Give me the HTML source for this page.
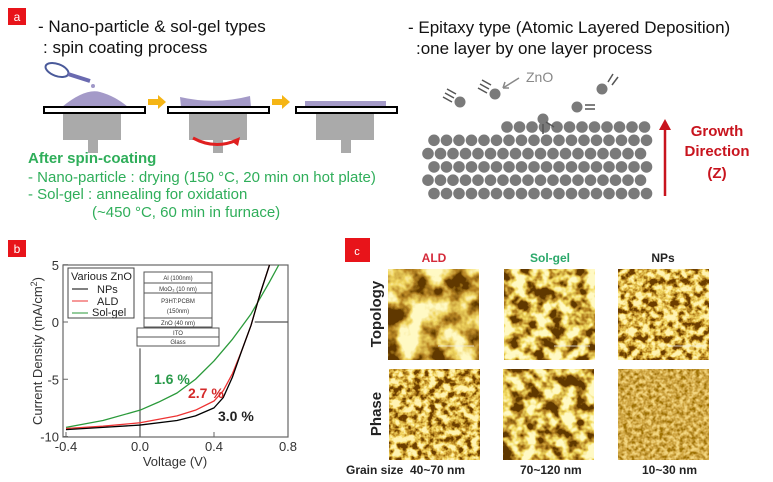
<!DOCTYPE html>
<html><head><meta charset="utf-8"><style>
body{margin:0;background:#fff;width:773px;height:482px;overflow:hidden;font-family:"Liberation Sans",Arial,sans-serif}
svg{display:block}
</style></head><body>
<svg width="773" height="482" viewBox="0 0 773 482" xmlns="http://www.w3.org/2000/svg" font-family="Liberation Sans, Arial, sans-serif">
<defs>
<filter id="afm1" x="0" y="0" width="100%" height="100%"><feTurbulence type="fractalNoise" baseFrequency="0.04" numOctaves="4" seed="3"/><feColorMatrix type="matrix" values="3 0 0 0 -1 3 0 0 0 -1 3 0 0 0 -1 0 0 0 0 1"/><feComponentTransfer><feFuncR type="table" tableValues="0.12 0.5 0.88 1"/><feFuncG type="table" tableValues="0.04 0.25 0.68 0.95"/><feFuncB type="table" tableValues="0 0.02 0.12 0.55"/></feComponentTransfer></filter>
<filter id="afm2" x="0" y="0" width="100%" height="100%"><feTurbulence type="fractalNoise" baseFrequency="0.08" numOctaves="3" seed="7"/><feColorMatrix type="matrix" values="3.2 0 0 0 -1.1 3.2 0 0 0 -1.1 3.2 0 0 0 -1.1 0 0 0 0 1"/><feComponentTransfer><feFuncR type="table" tableValues="0.12 0.5 0.9 1"/><feFuncG type="table" tableValues="0.04 0.25 0.72 0.95"/><feFuncB type="table" tableValues="0 0.02 0.12 0.55"/></feComponentTransfer></filter>
<filter id="afm3" x="0" y="0" width="100%" height="100%"><feTurbulence type="fractalNoise" baseFrequency="0.14" numOctaves="3" seed="11"/><feColorMatrix type="matrix" values="3 0 0 0 -1 3 0 0 0 -1 3 0 0 0 -1 0 0 0 0 1"/><feComponentTransfer><feFuncR type="table" tableValues="0.15 0.55 0.9 1"/><feFuncG type="table" tableValues="0.05 0.28 0.68 0.9"/><feFuncB type="table" tableValues="0 0.02 0.12 0.45"/></feComponentTransfer></filter>
<filter id="afm4" x="0" y="0" width="100%" height="100%"><feTurbulence type="fractalNoise" baseFrequency="0.25" numOctaves="2" seed="5"/><feColorMatrix type="matrix" values="2.2 0 0 0 -0.6 2.2 0 0 0 -0.6 2.2 0 0 0 -0.6 0 0 0 0 1"/><feComponentTransfer><feFuncR type="table" tableValues="0.35 0.65 0.9"/><feFuncG type="table" tableValues="0.17 0.4 0.68"/><feFuncB type="table" tableValues="0 0.06 0.22"/></feComponentTransfer></filter>
</defs>

<!-- Panel a -->
<g>
<rect x="8" y="8" width="18" height="17" fill="#e8141a"/>
<text x="17" y="21" font-size="12" fill="#fff" text-anchor="middle">a</text>
<text x="38" y="32" font-size="17" fill="#111">- Nano-particle &amp; sol-gel types</text>
<text x="43" y="53" font-size="17" fill="#111">: spin coating process</text>
<g>
<ellipse cx="57" cy="70" rx="12" ry="6" fill="none" stroke="#4a5a9a" stroke-width="2" transform="rotate(20 57 70)"/>
<line x1="68" y1="74" x2="90" y2="81" stroke="#6a6ab0" stroke-width="4"/>
<circle cx="93" cy="86" r="2" fill="#a098c8"/>
</g>
<path d="M62 107 Q85 88 100 92 Q115 96 128 107 Z" fill="#a49ac8"/>
<rect x="63" y="114" width="58" height="26" fill="#aaa"/><rect x="88" y="140" width="10" height="13" fill="#aaa"/>
<rect x="44" y="107" width="101" height="6" fill="#fff" stroke="#000" stroke-width="2"/>
<path d="M148 99 h10 v-4 l8 7 -8 7 v-4 h-10z" fill="#f5b515"/>
<path d="M180 97 Q215 105 250 96 L251 107 L181 107 Z" fill="#a49ac8"/>
<rect x="189" y="114" width="58" height="26" fill="#aaa"/><rect x="213" y="140" width="10" height="13" fill="#aaa"/>
<rect x="168" y="107" width="101" height="6" fill="#fff" stroke="#000" stroke-width="2"/>
<path d="M193 138 Q215 150 237 140" fill="none" stroke="#e02020" stroke-width="3"/>
<path d="M240 137 l-2 9 -7 -5z" fill="#e02020"/>
<path d="M272 99 h10 v-4 l8 7 -8 7 v-4 h-10z" fill="#f5b515"/>
<rect x="305" y="101" width="81" height="6" fill="#a49ac8"/>
<rect x="316" y="114" width="58" height="26" fill="#aaa"/><rect x="341" y="140" width="10" height="13" fill="#aaa"/>
<rect x="296" y="107" width="101" height="6" fill="#fff" stroke="#000" stroke-width="2"/>
<g font-size="15" fill="#2fae5a">
<text x="28" y="163" font-weight="bold">After spin-coating</text>
<text x="28" y="182">- Nano-particle : drying (150 °C, 20 min on hot plate)</text>
<text x="28" y="199">- Sol-gel : annealing for oxidation</text>
<text x="92" y="217">(~450 °C, 60 min in furnace)</text>
</g>
<text x="408" y="33" font-size="17" fill="#111">- Epitaxy type (Atomic  Layered Deposition)</text>
<text x="416" y="54" font-size="17" fill="#111">:one layer by one layer process</text>
<g id="balls" fill="#7a7a7a"></g>
<g fill="#7a7a7a" stroke="#555" stroke-width="1.5">
<circle cx="460" cy="102" r="5.5" stroke="none"/><path d="M443 97l9 5M445 93l9 5M447 89l9 5" />
<circle cx="495" cy="94" r="5.5" stroke="none"/><path d="M478 88l9 5M480 84l9 5M482 80l9 5"/>
<circle cx="602" cy="89" r="5.5" stroke="none"/><path d="M608 82l5 -8M612 85l6 -8"/>
<circle cx="577" cy="107" r="5.5" stroke="none"/><path d="M585 105h10M585 109h10"/>
<circle cx="543" cy="119" r="5.5" stroke="none"/><path d="M543 124v10M546 122l8 5"/>
<path d="M503 88l16-10" stroke="#888"/><path d="M503 88l2-6M503 88l6 0" stroke="#888"/>
</g>
<text x="526" y="82" font-size="14" fill="#888">ZnO</text>
<line x1="665" y1="196" x2="665" y2="128" stroke="#c8141e" stroke-width="2.5"/>
<path d="M659 130 l6 -11 6 11z" fill="#c8141e"/>
<g font-size="15" font-weight="bold" fill="#c8141e" text-anchor="middle">
<text x="717" y="136">Growth</text><text x="717" y="156">Direction</text><text x="717" y="178">(Z)</text>
</g>
</g>

<!-- Panel b -->
<g>
<rect x="8" y="240" width="18" height="17" fill="#e8141a"/>
<text x="17" y="253" font-size="12" fill="#fff" text-anchor="middle">b</text>
<rect x="63" y="265" width="225" height="172" fill="none" stroke="#666" stroke-width="1.2"/>
<g id="axes" font-size="13" fill="#333"></g>
<text transform="translate(42 351) rotate(-90)" font-size="13" text-anchor="middle" fill="#333">Current Density (mA/cm<tspan dy="-5" font-size="9">2</tspan><tspan dy="5">)</tspan></text>
<text x="175" y="466" font-size="13" text-anchor="middle" fill="#333">Voltage (V)</text>
<g id="curves"></g>
<rect x="68" y="268" width="66" height="50" fill="#fff" stroke="#444" stroke-width="1"/>
<g font-size="11" fill="#222">
<text x="71" y="280">Various ZnO</text>
<line x1="72" y1="289" x2="88" y2="289" stroke="#000"/><text x="97" y="293">NPs</text>
<line x1="72" y1="301" x2="88" y2="301" stroke="#e33"/><text x="97" y="305">ALD</text>
<line x1="72" y1="313" x2="88" y2="313" stroke="#2a9a3a"/><text x="92" y="316">Sol-gel</text>
</g>
<g fill="#fff" stroke="#555" stroke-width="1" font-size="6" text-anchor="middle">
<rect x="144" y="272" width="68" height="11"/><rect x="144" y="283" width="68" height="10"/><rect x="144" y="293" width="68" height="25"/><rect x="144" y="318" width="68" height="9"/>
<rect x="137" y="328" width="82" height="9"/><rect x="137" y="337" width="82" height="9"/>
<g fill="#333" stroke="none"><text x="178" y="280">Al (100nm)</text><text x="178" y="291">MoO₃ (10 nm)</text><text x="178" y="303">P3HT:PCBM</text><text x="178" y="313">(150nm)</text><text x="178" y="325">ZnO (40 nm)</text><text x="178" y="335">ITO</text><text x="178" y="344">Glass</text></g>
</g>
<g font-size="14" font-weight="bold">
<text x="154" y="384" fill="#2a9a4a">1.6 %</text>
<text x="188" y="398" fill="#d42a2a">2.7 %</text>
<text x="218" y="421" fill="#222">3.0 %</text>
</g>
</g>

<!-- Panel c -->
<g>
<rect x="345" y="238" width="25" height="24" fill="#e8141a"/>
<text x="357" y="255" font-size="11" fill="#fff" text-anchor="middle">c</text>
<g font-size="12" font-weight="bold" text-anchor="middle">
<text x="434" y="262" fill="#d42a3a">ALD</text>
<text x="550" y="262" fill="#2aa86a">Sol-gel</text>
<text x="663" y="262" fill="#222">NPs</text>
</g>
<g font-size="15" font-weight="bold" fill="#222" text-anchor="middle">
<text transform="translate(381 314) rotate(-90)">Topology</text>
<text transform="translate(381 414) rotate(-90)">Phase</text>
</g>
<rect x="388" y="269" width="91" height="91" filter="url(#afm1)"/>
<rect x="504" y="269" width="91" height="91" filter="url(#afm2)"/>
<rect x="618" y="269" width="91" height="91" filter="url(#afm3)"/>
<rect x="389" y="369" width="91" height="91" filter="url(#afm3)"/>
<rect x="503" y="369" width="91" height="91" filter="url(#afm2)"/>
<rect x="618" y="369" width="91" height="91" filter="url(#afm4)"/>
<g stroke="#eee" stroke-width="0.8"><line x1="438" y1="346" x2="474" y2="346"/><line x1="554" y1="346" x2="590" y2="346"/><line x1="668" y1="346" x2="704" y2="346"/></g>
<g font-size="12" font-weight="bold" fill="#222">
<text x="346" y="474">Grain size</text>
<text x="410" y="474">40~70 nm</text><text x="520" y="474">70~120 nm</text><text x="642" y="474">10~30 nm</text>
</g>
</g>
</svg>
<script>
const NS="http://www.w3.org/2000/svg";
const voltages=[-0.4,-0.2,0,0.2,0.3,0.4,0.45,0.5,0.55,0.6,0.65,0.7];
const npsJ=[-9.4,-9.2,-9.0,-8.6,-8.2,-7.5,-6.6,-4.8,-2.5,-0.3,2.5,5.5];
const aldJ=[-9.3,-9.1,-8.8,-8.2,-7.7,-6.9,-6.0,-4.5,-2.5,-0.3,2.5,5.5];
const solVoltages=[-0.4,-0.2,0,0.1,0.2,0.3,0.4,0.5,0.55,0.6,0.65,0.7,0.75];
const solJ=[-9.2,-8.6,-7.7,-7.0,-6.2,-5.0,-3.4,-1.5,-0.4,0.7,2.1,3.5,5.0];
const xTicks=[-0.4,0.0,0.4,0.8];
const xTickLabels=["-0.4","0.0","0.4","0.8"];
const yTicks=[5,0,-5,-10];
const yTickLabels=["5","0","-5","-10"];
function xs(v){return 140+(v)*185;}
function ys(j){return 322-j*11.45;}
const ax=document.getElementById('axes');
xTicks.forEach((t,i)=>{
 const l=document.createElementNS(NS,'line');
 
 
 l.setAttribute('x1',xs(t));l.setAttribute('x2',xs(t));l.setAttribute('y1',437);l.setAttribute('y2',432);l.setAttribute('stroke','#666');ax.appendChild(l);
 const tx=document.createElementNS(NS,'text');
 
 
 tx.setAttribute('x',xs(t));tx.setAttribute('y',451);tx.setAttribute('text-anchor','middle');tx.textContent=xTickLabels[i];ax.appendChild(tx);
});
yTicks.forEach((t,i)=>{
 const l=document.createElementNS(NS,'line');
 
 
 l.setAttribute('x1',63);l.setAttribute('x2',68);l.setAttribute('y1',ys(t));l.setAttribute('y2',ys(t));l.setAttribute('stroke','#666');ax.appendChild(l);
 const tx=document.createElementNS(NS,'text');
 
 
 tx.setAttribute('x',59);tx.setAttribute('y',ys(t)+5);tx.setAttribute('text-anchor','end');tx.textContent=yTickLabels[i];ax.appendChild(tx);
});
const cv=document.getElementById('curves');
function ln(x1,y1,x2,y2,n){const l=document.createElementNS(NS,'line');
 
 
 l.setAttribute('x1',x1);l.setAttribute('y1',y1);l.setAttribute('x2',x2);l.setAttribute('y2',y2);l.setAttribute('stroke','#555');l.setAttribute('stroke-width','1.2');cv.appendChild(l);}
ln(xs(0),ys(-10),xs(0),ys(-2.3),'zero-voltage-line');
ln(xs(0.62),ys(0),xs(0.8),ys(0),'zero-current-line');
function series(vx,vy,color,name){
 const p=document.createElementNS(NS,'polyline');
 
 
 const pts=[];vx.forEach((v,i)=>{let y=Math.max(ys(vy[i]),265);pts.push(xs(v)+','+y);});
 p.setAttribute('points',pts.join(' '));p.setAttribute('fill','none');p.setAttribute('stroke',color);p.setAttribute('stroke-width','1.3');p.setAttribute('stroke-linejoin','round');cv.appendChild(p);}
series(solVoltages,solJ,'#2a9a3a','series-solgel');
series(voltages,aldJ,'#e33','series-ald');
series(voltages,npsJ,'#000','series-nps');
const bg=document.getElementById('balls');
for(let r=0;r<6;r++){
 const y=127+r*13.3, off=(r%2)?6:0;
 let start=r===0?507:428+off;
 for(let x=start;x<=652;x+=12.5){
  const c=document.createElementNS(NS,'circle');
  
  
  c.setAttribute('cx',x);c.setAttribute('cy',y);c.setAttribute('r',5.8);bg.appendChild(c);}
}
</script>
</body></html>
